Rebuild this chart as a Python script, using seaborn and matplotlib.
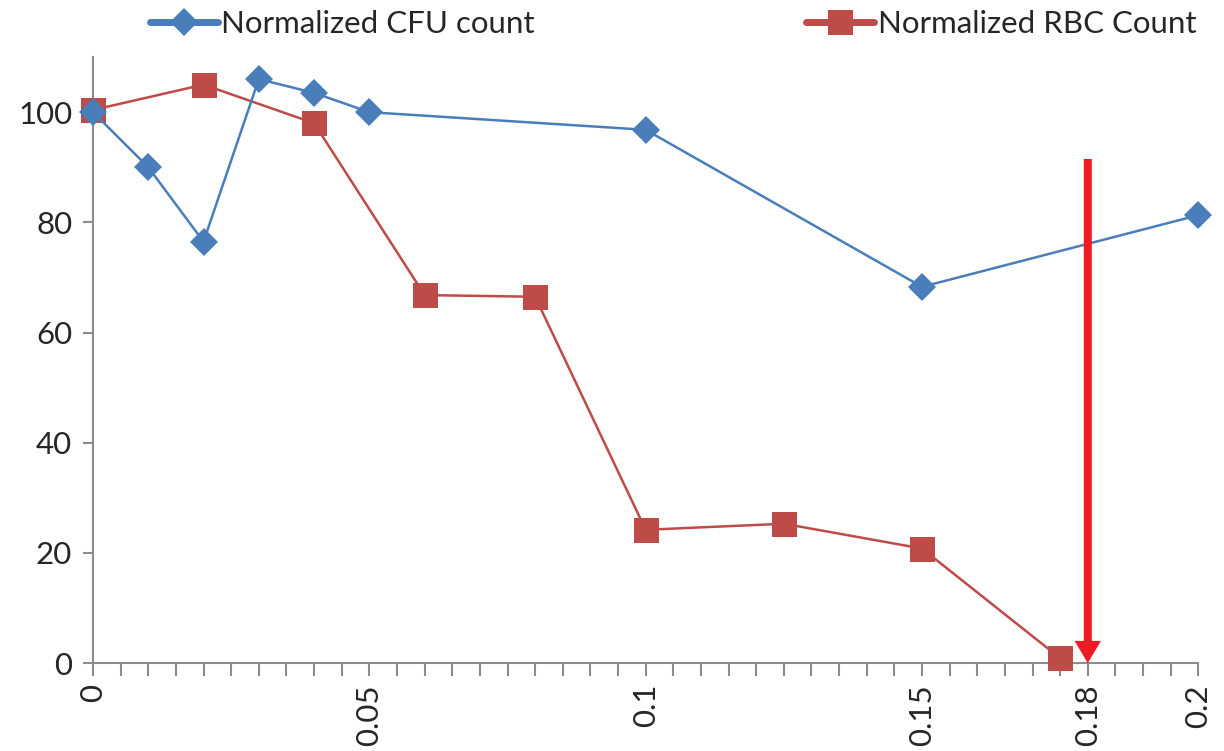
import numpy as np
import pandas as pd
import matplotlib.pyplot as plt
import seaborn as sns
from matplotlib.lines import Line2D

# dados
cfu_x = [0, 0.01, 0.02, 0.03, 0.04, 0.05, 0.1, 0.15, 0.2]
cfu_y = [100.0, 90.0, 76.5, 106.0, 103.5, 100.0, 96.8, 68.3, 81.3]
rbc_x = [0, 0.02, 0.04, 0.06, 0.08, 0.1, 0.125, 0.15, 0.175]
rbc_y = [100.4, 105.0, 98.0, 66.8, 66.5, 24.2, 25.3, 20.8, 0.9]
xtick_labels = [0, 0.05, 0.1, 0.15, 0.18, 0.2]
arrow_x = 0.18
arrow_top = 91.5

azul = '#4A7EBB'
vermelho = '#BE4B48'

sns.set_style('white')
plt.rcParams['font.family'] = ['Lato', 'DejaVu Sans']

fig = plt.figure(figsize=(12.24, 7.51), dpi=100)
ax = fig.add_axes([0.076, 0.117, 0.903, 0.807])

df_cfu = pd.DataFrame({'x': cfu_x, 'y': cfu_y})
df_rbc = pd.DataFrame({'x': rbc_x, 'y': rbc_y})

sns.lineplot(data=df_rbc, x='x', y='y', ax=ax, color=vermelho, lw=1.8,
             marker='s', markersize=18, markeredgewidth=0, clip_on=False, zorder=3)
sns.lineplot(data=df_cfu, x='x', y='y', ax=ax, color=azul, lw=1.8,
             marker='D', markersize=14, markeredgewidth=0, clip_on=False, zorder=4)

# seta vermelha em 0.18
ax.annotate('', xy=(arrow_x, 0), xytext=(arrow_x, arrow_top),
            arrowprops=dict(arrowstyle='simple,head_width=0.95,head_length=0.8,tail_width=0.29',
                            color='#ED1C24', lw=0, mutation_scale=20,
                            shrinkA=0, shrinkB=0),
            zorder=5)

ax.set_xlim(0, 0.2)
ax.set_ylim(0, 110)
ax.set_xticks(xtick_labels)
ax.set_xticklabels(['0', '0.05', '0.1', '0.15', '0.18', '0.2'], rotation=90)
ax.set_xticks(np.arange(0, 0.2001, 0.005), minor=True)
ax.set_yticks([0, 20, 40, 60, 80, 100])
ax.set_xlabel('')
ax.set_ylabel('')

for s in ['top', 'right']:
    ax.spines[s].set_visible(False)
for s in ['left', 'bottom']:
    ax.spines[s].set_color('#8C8C8C')
    ax.spines[s].set_linewidth(1.5)

ax.tick_params(axis='x', which='both', direction='out', length=9, width=1.5,
               color='#8C8C8C', labelsize=22.5, pad=6, bottom=True)
ax.tick_params(axis='y', which='major', direction='out', length=7, width=1.5,
               color='#8C8C8C', labelsize=22.5, pad=8, left=True)

# legenda no topo
h_cfu = Line2D([], [], color=azul, lw=5, marker='D', markersize=14, markeredgewidth=0)
h_rbc = Line2D([], [], color=vermelho, lw=5, marker='s', markersize=18, markeredgewidth=0)
fig.legend([h_cfu], ['Normalized CFU count'], loc='center left',
           bbox_to_anchor=(0.112, 0.968), frameon=False, fontsize=22.5,
           handlelength=2.2, handletextpad=0.1, borderaxespad=0)
fig.legend([h_rbc], ['Normalized RBC Count'], loc='center left',
           bbox_to_anchor=(0.648, 0.968), frameon=False, fontsize=22.5,
           handlelength=2.2, handletextpad=0.1, borderaxespad=0)

fig.savefig('out.png', dpi=100)
